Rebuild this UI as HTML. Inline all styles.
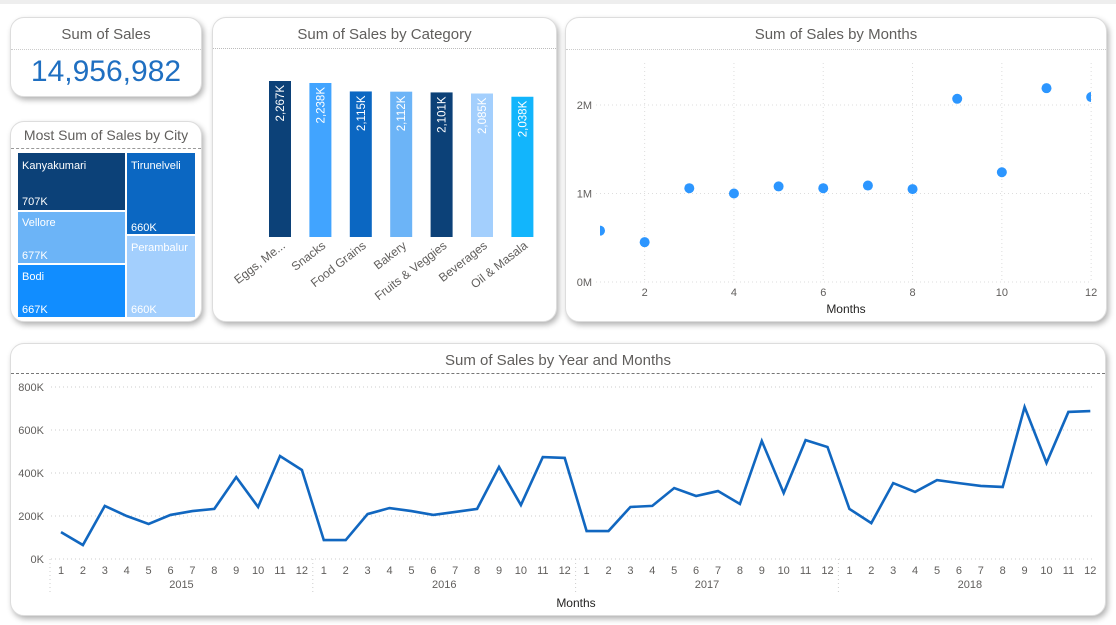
<!DOCTYPE html>
<html><head><meta charset="utf-8"><style>
body{margin:0;width:1116px;height:625px;background:#fff;font-family:"Liberation Sans",sans-serif;overflow:hidden;position:relative}
.card{position:absolute;background:#fff;border-radius:14px;box-shadow:2px 3px 6px rgba(0,0,0,0.3);border:1px solid #ddd;box-sizing:border-box;overflow:hidden}
.title{position:absolute;left:0;right:0;text-align:center;color:#605e5c;font-size:15px}
.sep{position:absolute;left:0;right:0;border-top:1px dashed #999}
svg text{font-family:"Liberation Sans",sans-serif}
</style></head><body>
<div style="position:absolute;left:0;top:0;width:1116px;height:4px;background:#eee"></div>

<div class="card" style="left:10px;top:17px;width:192px;height:80px">
 <div class="title" style="top:8px">Sum of Sales</div>
 <div class="sep" style="top:31px;border-top:1px dotted #ccc"></div>
 <div style="position:absolute;left:0;right:0;top:37px;text-align:center;color:#1f6fc1;font-size:30px">14,956,982</div>
</div>

<div class="card" style="left:10px;top:121px;width:192px;height:201px">
 <div class="title" style="top:5px;font-size:14px">Most Sum of Sales by City</div>
 <div class="sep" style="top:26px"></div>
 <svg width="192" height="201" style="position:absolute;left:0;top:0" font-size="11" fill="#fff">
  <g><rect x="7" y="31" width="107" height="57" fill="#0c4178"/><text x="11" y="47">Kanyakumari</text><text x="11" y="83">707K</text></g>
  <g><rect x="7" y="90" width="107" height="51" fill="#6cb4f7"/><text x="11" y="104">Vellore</text><text x="11" y="137">677K</text></g>
  <g><rect x="7" y="143" width="107" height="52" fill="#118dff"/><text x="11" y="158">Bodi</text><text x="11" y="191">667K</text></g>
  <g><rect x="116" y="31" width="68" height="81" fill="#0b67c2"/><text x="120" y="47">Tirunelveli</text><text x="120" y="109">660K</text></g>
  <g><rect x="116" y="114" width="68" height="81" fill="#a3cffd"/><text x="120" y="129">Perambalur</text><text x="120" y="191">660K</text></g>
 </svg>
</div>

<div class="card" style="left:212px;top:17px;width:345px;height:305px">
 <div class="title" style="top:8px">Sum of Sales by Category</div>
 <div class="sep" style="top:30px;border-top:1px dotted #bbb"></div>
 <svg id="bars" width="345" height="305" style="position:absolute;left:0;top:0"></svg>
</div>

<div class="card" style="left:565px;top:17px;width:542px;height:305px">
 <div class="title" style="top:8px">Sum of Sales by Months</div>
 <div class="sep" style="top:31px;border-top:1px dotted #ccc"></div>
 <svg id="scatter" width="542" height="305" style="position:absolute;left:0;top:0"></svg>
</div>

<div class="card" style="left:10px;top:343px;width:1096px;height:273px">
 <div class="title" style="top:8px">Sum of Sales by Year and Months</div>
 <div class="sep" style="top:29px;border-top:1px dashed #777"></div>
 <svg id="line" width="1096" height="273" style="position:absolute;left:0;top:0"></svg>
</div>

<script>
const NS="http://www.w3.org/2000/svg";
function mk(p,t,a,txt){const e=document.createElementNS(NS,t);for(const k in a)e.setAttribute(k,a[k]);if(txt!==undefined)e.textContent=txt;p.appendChild(e);return e;}

// ---- Category bars ----
const categories=["Eggs, Me...","Snacks","Food Grains","Bakery","Fruits & Veggies","Beverages","Oil & Masala"];
const categoryValues=[2267,2238,2115,2112,2101,2085,2038];
const categoryLabels=["2,267K","2,238K","2,115K","2,112K","2,101K","2,085K","2,038K"];
const barColors=["#0c4178","#41a4ff","#0b67c2","#6cb4f7","#0c4178","#a3cffd","#12b5fc"];
(function(){
 const s=document.getElementById('bars');const base=219,scale=156/2267;
 const bx=i=>67+i*40.4;
 categories.forEach((c,i)=>{
  const h=categoryValues[i]*scale,x=bx(i);
  const r=mk(s,'rect',{x:x-11,y:base-h,width:22,height:h,fill:barColors[i]});
  
  
  const t=mk(s,'text',{transform:`translate(${x+4},${base-h+4}) rotate(-90)`,'text-anchor':'end','font-size':'11.5',fill:'#fff'},categoryLabels[i]);
  
  
  const l=mk(s,'text',{transform:`translate(${x+6},${base+10}) rotate(-38)`,'text-anchor':'end','font-size':'12',fill:'#605e5c'},c);
  
  
 });
})();

// ---- Scatter ----
const months=[1,2,3,4,5,6,7,8,9,10,11,12];
const monthSales=[0.58,0.45,1.06,1.0,1.08,1.06,1.09,1.05,2.07,1.24,2.19,2.09];
const scatterYTicks=[0,1,2];
const scatterXTicks=[2,4,6,8,10,12];
(function(){
 const s=document.getElementById('scatter');
 const X=m=>34+(m-1)*44.65, Y=v=>264-v*88.5;
 mk(s,'clipPath',{id:'sc'}).appendChild(document.createElementNS(NS,'rect'));
 const cr=s.querySelector('#sc rect');cr.setAttribute('x',34);cr.setAttribute('y',35);cr.setAttribute('width',491);cr.setAttribute('height',240);
 scatterYTicks.forEach(v=>{
  mk(s,'line',{x1:30,x2:525,y1:Y(v),y2:Y(v),stroke:'#ddd','stroke-dasharray':'1,3'});
  const t=mk(s,'text',{x:26,y:Y(v)+4,'text-anchor':'end','font-size':'11',fill:'#605e5c'},v+'M');
  
  
 });
 scatterXTicks.forEach(m=>{
  mk(s,'line',{x1:X(m),x2:X(m),y1:45,y2:264,stroke:'#ddd','stroke-dasharray':'1,3'});
  const t=mk(s,'text',{x:X(m),y:278,'text-anchor':'middle','font-size':'11',fill:'#605e5c'},m);
  
  
 });
 const g=mk(s,'g',{'clip-path':'url(#sc)'});
 months.forEach((m,i)=>{
  const c=mk(g,'circle',{cx:X(m),cy:Y(monthSales[i]),r:5,fill:'#2c96ff'});
  
  
 });
 const xt=mk(s,'text',{x:280,y:295,'text-anchor':'middle','font-size':'12',fill:'#252423'},'Months');
 
 
})();

// ---- Line ----
const years=["2015","2016","2017","2018"];
const lineSales=[125,65,247,200,163,205,223,233,381,242,479,414,
 88,88,209,237,223,205,219,233,428,251,474,470,
 130,130,242,247,330,293,316,256,549,307,553,521,
 233,167,353,312,367,353,340,335,707,447,684,688];
const lineYTicks=[0,200,400,600,800];
(function(){
 const s=document.getElementById('line');
 const X=i=>50+i*21.9, Y=v=>215-v*0.215;
 lineYTicks.forEach(v=>{
  mk(s,'line',{x1:40,x2:1083,y1:Y(v),y2:Y(v),stroke:'#ccc','stroke-dasharray':'1,3'});
  const t=mk(s,'text',{x:33,y:Y(v)+4,'text-anchor':'end','font-size':'11',fill:'#605e5c'},v+'K');
  
  
 });
 lineSales.forEach((v,i)=>{
  const t=mk(s,'text',{x:X(i),y:230,'text-anchor':'middle','font-size':'11',fill:'#605e5c'},(i%12)+1);
  
  
 });
 years.forEach((y,k)=>{
  const mid=(X(k*12)+X(k*12+11))/2;
  const t=mk(s,'text',{x:mid,y:244,'text-anchor':'middle','font-size':'11',fill:'#605e5c'},y);
  
  
  const sx=X(k*12)-11;
  mk(s,'line',{x1:sx,x2:sx,y1:215,y2:250,stroke:'#ccc','stroke-dasharray':'1,3'});
 });
 const p=mk(s,'polyline',{points:lineSales.map((v,i)=>X(i)+','+Y(v)).join(' '),fill:'none',stroke:'#1167c0','stroke-width':'2.6','stroke-linejoin':'miter'});
 
 
 const xt=mk(s,'text',{x:565,y:263,'text-anchor':'middle','font-size':'12',fill:'#252423'},'Months');
 
 
})();
</script>
</body></html>
